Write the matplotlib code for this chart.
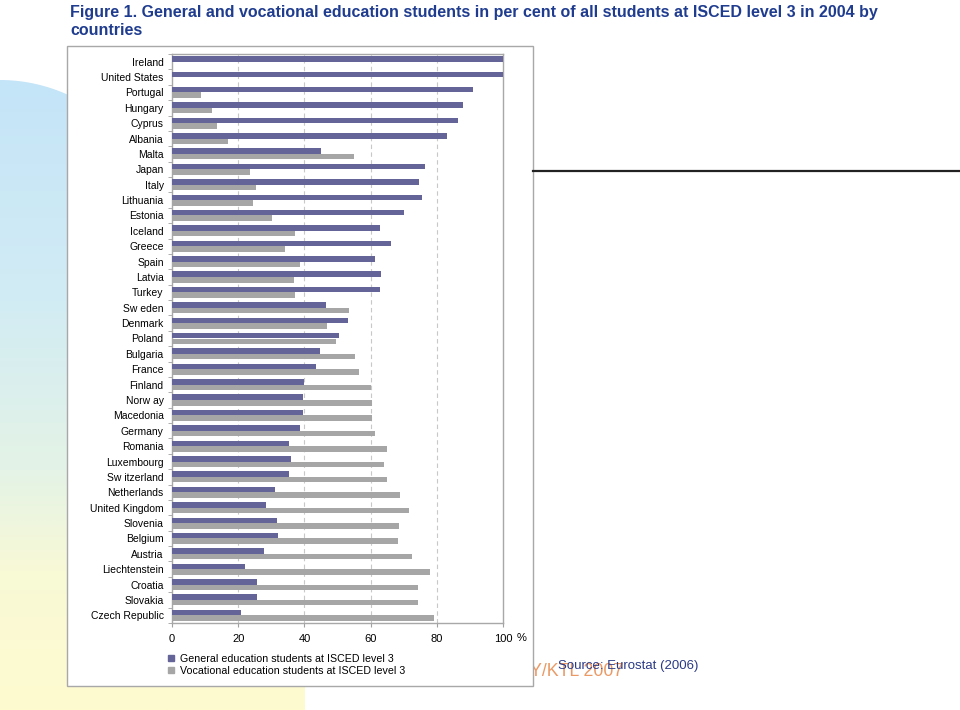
import numpy as np
import matplotlib
matplotlib.use("Agg")
import matplotlib.pyplot as plt
from matplotlib.patches import Rectangle, PathPatch
from matplotlib.path import Path
from matplotlib.lines import Line2D
from matplotlib.colors import LinearSegmentedColormap

countries = ["Ireland", "United States", "Portugal", "Hungary", "Cyprus", "Albania",
             "Malta", "Japan", "Italy", "Lithuania", "Estonia", "Iceland", "Greece",
             "Spain", "Latvia", "Turkey", "Sw eden", "Denmark", "Poland", "Bulgaria",
             "France", "Finland", "Norw ay", "Macedonia", "Germany", "Romania",
             "Luxembourg", "Sw itzerland", "Netherlands", "United Kingdom", "Slovenia",
             "Belgium", "Austria", "Liechtenstein", "Croatia", "Slovakia", "Czech Republic"]
general = [100, 100, 91.0, 88.0, 86.5, 83.2, 45.1, 76.3, 74.6, 75.4, 70.1, 62.8, 66.1,
           61.3, 63.1, 62.8, 46.5, 53.2, 50.5, 44.8, 43.5, 39.9, 39.7, 39.7, 38.8, 35.2,
           36.1, 35.2, 31.0, 28.5, 31.6, 31.9, 27.7, 22.2, 25.8, 25.8, 20.7]
vocational = [0, 0, 8.8, 12.1, 13.5, 16.8, 54.9, 23.6, 25.5, 24.6, 30.1, 37.3, 34.0,
              38.8, 36.9, 37.3, 53.5, 46.8, 49.4, 55.3, 56.5, 60.1, 60.4, 60.4, 61.3, 64.9,
              64.0, 64.9, 69.0, 71.5, 68.5, 68.2, 72.5, 77.9, 74.3, 74.3, 79.3]
xticks = [0, 20, 40, 60, 80, 100]
legend_labels = ["General education students at ISCED level 3",
                 "Vocational education students at ISCED level 3"]
title = ("Figure 1. General and vocational education students in per cent of all students at ISCED level 3 in 2004 by\n"
         "countries")

W, H = 960, 710
fig = plt.figure(figsize=(W / 100, H / 100), dpi=100)
fig.patch.set_facecolor("white")

# background axes in pixel coordinates
bg = fig.add_axes([0, 0, 1, 1], zorder=0)
bg.set_xlim(0, W)
bg.set_ylim(H, 0)
bg.axis("off")

# gradient decoration on the left
cmap = LinearSegmentedColormap.from_list(
    "deco", [(0.0, "#c4e4f8"), (0.35, "#d2ecf4"), (0.62, "#e4f3e6"),
             (0.78, "#f8f9d6"), (1.0, "#fefbcf")])
grad = np.linspace(0, 1, 256).reshape(-1, 1)
im = bg.imshow(grad, cmap=cmap, aspect="auto", extent=(0, 305, 710, 80), zorder=1)
a, b = 180, 200
t = np.linspace(0, np.pi / 2, 60)
xs = a * np.sin(t)
ys = 80 + b - b * np.cos(t)
verts = [(0, 710), (0, 80)] + list(zip(xs, ys)) + [(305, 280), (305, 710), (0, 710)]
codes = [Path.MOVETO] + [Path.LINETO] * (len(verts) - 2) + [Path.CLOSEPOLY]
clip = PathPatch(Path(verts, codes), transform=bg.transData, facecolor="none", edgecolor="none")
bg.add_patch(clip)
im.set_clip_path(clip)

# watermark text (under the frame)
bg.text(530, 671, "Y/KTL 2007", color="#eb9a66", fontsize=12.8, family="Liberation Sans",
        ha="left", va="center", zorder=2)

# chart frame
bg.add_patch(Rectangle((67, 46), 466, 640, facecolor="white", edgecolor="#a8a8a8",
                       linewidth=1.0, zorder=3))

# black horizontal line on the right
bg.plot([533, 960], [171, 171], color="#222222", linewidth=1.6, zorder=3)

# source text
bg.text(558, 666, "Source: Eurostat (2006)", color="#2b3a86", fontsize=9.5,
        family="Liberation Sans", ha="left", va="center", zorder=4)

# title
fig.text(70 / W, 1 - 5 / H, title, color="#1f3c8f", fontsize=11.5,
         family="Liberation Sans", fontweight="bold",
         ha="left", va="top", linespacing=1.25)

# main plot
ax_l, ax_r, ax_t, ax_b = 172, 503, 54, 623
ax = fig.add_axes([ax_l / W, 1 - ax_b / H, (ax_r - ax_l) / W, (ax_b - ax_t) / H], zorder=2)
ax.set_facecolor("none")
n = len(countries)
y = np.arange(n)
h = 0.36
c_gen = "#646498"
c_voc = "#a6a6a6"
ax.barh(y - h / 2, general, height=h, color=c_gen, zorder=3, label=legend_labels[0])
ax.barh(y + h / 2, vocational, height=h, color=c_voc, zorder=3, label=legend_labels[1])
ax.set_ylim(n - 0.5, -0.5)
ax.set_xlim(0, 100)
ax.set_xticks(xticks)
ax.set_xticklabels([str(v) for v in xticks], fontsize=8, family="Liberation Sans")
ax.set_yticks(y)
ax.set_yticklabels(countries, fontsize=7.5, family="Liberation Sans")
ax.set_yticks(np.arange(n + 1) - 0.5, minor=True)
ax.tick_params(axis="y", which="major", length=0, pad=6)
ax.tick_params(axis="y", which="minor", length=3, color="#a0a0a0", direction="out")
ax.tick_params(axis="x", which="major", length=3, color="#a0a0a0", direction="out", pad=5)
for s in ax.spines.values():
    s.set_color("#a8a8a8")
    s.set_linewidth(1.0)
for xv in xticks[1:-1]:
    ax.axvline(xv, color="#c8c8c8", linestyle=(0, (4, 3)), linewidth=0.8, zorder=1)

fig.text(517 / W, 1 - 638 / H, "%", fontsize=8, family="Liberation Sans", ha="left", va="center")

handles = [Line2D([], [], marker="s", linestyle="none", markersize=5, color=c_gen),
           Line2D([], [], marker="s", linestyle="none", markersize=5, color=c_voc)]
fig.legend(handles, legend_labels, loc="upper left", bbox_to_anchor=(167 / W, 1 - 654 / H),
           frameon=False, prop={"family": "Liberation Sans", "size": 7.7},
           handlelength=0.8, handletextpad=0.4, labelspacing=0.2, borderpad=0, borderaxespad=0)

fig.savefig("out.png", dpi=100)
